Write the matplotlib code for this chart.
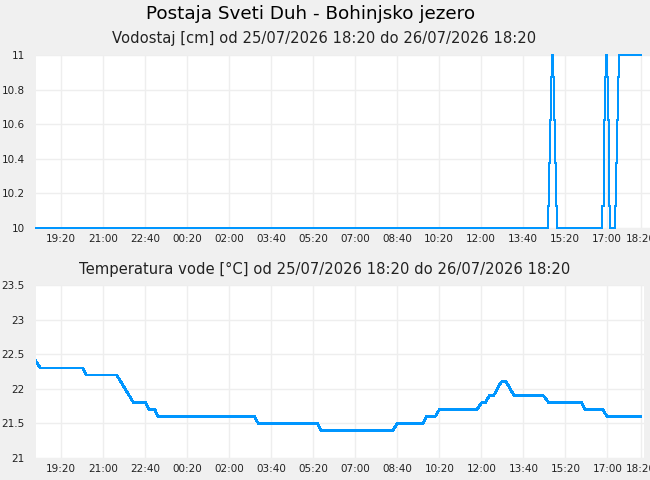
import pandas as pd
import matplotlib
matplotlib.use("Agg")
import matplotlib.pyplot as plt

# podatki (odčitani s slike)
start = "2026-07-25 18:20"
end = "2026-07-26 18:20"

level_times = ["18:20", "14:40", "14:42", "14:44", "14:46", "14:49", "14:52", "14:54",
               "14:56", "14:58", "15:00", "16:48", "16:52", "16:53", "16:55", "16:58",
               "17:00", "17:01", "17:04", "17:05", "17:07", "17:19", "17:21", "17:23",
               "17:25", "17:28", "18:20"]
level_values = [10, 10.125, 10.375, 10.625, 10.875, 11, 10.875, 10.625,
                10.375, 10.125, 10, 10.125, 10.375, 10.625, 10.875, 11,
                10.875, 10.625, 10.375, 10.125, 10, 10.125, 10.375, 10.625,
                10.875, 11, 11]

temp_times = ["18:20", "18:30", "20:11", "20:19", "21:32", "21:52", "22:12", "22:41",
              "22:49", "23:03", "23:10", "03:00", "03:09", "05:30", "05:38", "08:29",
              "08:40", "09:41", "09:49", "10:10", "10:20", "11:49", "12:01", "12:09",
              "12:19", "12:29", "12:47", "12:59", "13:18", "14:28", "14:40", "15:59",
              "16:07", "16:49", "16:59", "18:20"]
temp_values = [22.4, 22.3, 22.3, 22.2, 22.2, 22.0, 21.8, 21.8,
               21.7, 21.7, 21.6, 21.6, 21.5, 21.5, 21.4, 21.4,
               21.5, 21.5, 21.6, 21.6, 21.7, 21.7, 21.8, 21.8,
               21.9, 21.9, 22.1, 22.1, 21.9, 21.9, 21.8, 21.8,
               21.7, 21.7, 21.6, 21.6]

tick_labels = ["19:20", "21:00", "22:40", "00:20", "02:00", "03:40", "05:20", "07:00",
               "08:40", "10:20", "12:00", "13:40", "15:20", "17:00", "18:20"]


def to_times(hhmm):
    # ure -> datumi, ob prehodu čez polnoč dodamo dan
    out = []
    day = pd.Timestamp(start).normalize()
    prev = pd.Timestamp(start)
    for i, s in enumerate(hhmm):
        t = pd.Timestamp(f"{day.date()} {s}")
        if t < prev or (i > 0 and t == pd.Timestamp(start)):
            day = day + pd.Timedelta(days=1)
            t = pd.Timestamp(f"{day.date()} {s}")
        out.append(t)
        prev = t
    return out


blue = "#0096ff"
grid_col = "#eeeeee"

fig = plt.figure(figsize=(6.5, 4.8), dpi=100, facecolor="#f0f0f0")
ax1 = fig.add_axes([36 / 650, 1 - 228 / 480, 614 / 650, 173 / 480])
ax2 = fig.add_axes([36 / 650, 1 - 458 / 480, 608 / 650, 173 / 480])

fig.text(311 / 650, 1 - 14 / 480, "Postaja Sveti Duh - Bohinjsko jezero",
         ha="center", va="center", fontsize=13.2)
fig.text(0.498, 1 - 39 / 480, "Vodostaj [cm] od 25/07/2026 18:20 do 26/07/2026 18:20",
         ha="center", va="center", fontsize=10.6, color="#222222")
fig.text(0.499, 1 - 269 / 480, "Temperatura vode [°C] od 25/07/2026 18:20 do 26/07/2026 18:20",
         ha="center", va="center", fontsize=10.6, color="#222222")

ax1.plot(to_times(level_times), level_values, color=blue, lw=1.3,
         drawstyle="steps-post", clip_on=False, antialiased=False)
ax2.plot(to_times(temp_times), temp_values, color=blue, lw=1.3, antialiased=False)

ticks = to_times(tick_labels)
t0 = pd.Timestamp(start)
for ax, extra, yt, ylim in [(ax1, 22, [10, 10.2, 10.4, 10.6, 10.8, 11], (10, 11)),
                            (ax2, 7, [21, 21.5, 22, 22.5, 23, 23.5], (21, 23.5))]:
    ax.set_facecolor("white")
    ax.set_xlim(t0, pd.Timestamp(end) + pd.Timedelta(minutes=extra))
    ax.set_ylim(*ylim)
    ax.set_xticks(ticks)
    ax.set_xticklabels(tick_labels)
    ax.set_yticks(yt)
    ax.set_yticklabels([f"{v:g}" for v in yt])
    ax.grid(True, color=grid_col, lw=1)
    ax.set_axisbelow(True)
    for sp in ax.spines.values():
        sp.set_visible(False)
    ax.tick_params(axis="both", length=0, labelsize=7.5, labelcolor="#222222")
    ax.tick_params(axis="y", pad=8)
    ax.tick_params(axis="x", pad=4)

fig.savefig("out.png", dpi=100, facecolor=fig.get_facecolor())
